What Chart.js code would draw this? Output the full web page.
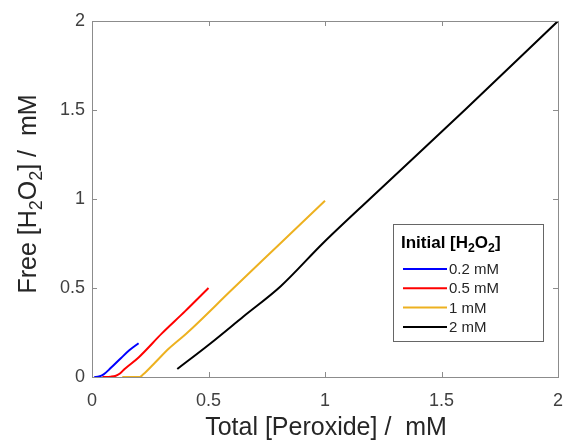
<!DOCTYPE html>
<html>
<head>
<meta charset="utf-8">
<script src="https://cdn.jsdelivr.net/npm/chart.js@4.4.0/dist/chart.umd.min.js"></script>
<style>
  html, body { margin: 0; padding: 0; background: #fff; }
  #wrap { width: 563px; height: 442px; }
</style>
</head>
<body>
<div id="wrap"><canvas id="h2o2Chart"></canvas></div>
<script>
const xTicks = [0, 0.5, 1, 1.5, 2];
const yTicks = [0, 0.5, 1, 1.5, 2];
const seriesLabels = ["0.2 mM", "0.5 mM", "1 mM", "2 mM"];
const seriesColors = ["#0000ff", "#ff0000", "#edb120", "#000000"];

// total peroxide (x) and free H2O2 (y)
const total02 = [0.01, 0.03, 0.05, 0.08, 0.125, 0.16, 0.2];
const free02 = [0, 0.003, 0.015, 0.05, 0.107, 0.15, 0.19];
const total05 = [0.045, 0.08, 0.1, 0.12, 0.14, 0.2, 0.3, 0.4, 0.5];
const free05 = [0, 0.002, 0.006, 0.02, 0.045, 0.11, 0.245, 0.37, 0.5];
const total1 = [0.13, 0.205, 0.22, 0.27, 0.33, 0.41, 0.6, 0.8, 1.0];
const free1 = [0, 0, 0.015, 0.08, 0.16, 0.25, 0.49, 0.74, 0.99];
const total2 = [0.366, 0.5, 0.65, 0.81, 0.99, 1.2, 1.6, 2.0];
const free2 = [0.045, 0.18, 0.34, 0.51, 0.75, 1.01, 1.5, 2.0];

const xs = [total02, total05, total1, total2];
const ys = [free02, free05, free1, free2];

const FONT = "'Liberation Sans', Arial, sans-serif";
const boxColor = "#8c8c8c";
const textColor = "#262626";

function pts(xa, ya) {
	return xa.map((x, i) => ({ x: x, y: ya[i] }));
}

// draws a run of text parts, some of them subscripts
function drawRich(ctx, parts, x, y, size, weight, align) {
	ctx.save();
	ctx.textBaseline = "alphabetic";
	ctx.textAlign = "left";
	let widths = parts.map((p) => {
		ctx.font = weight + " " + (p.sub ? size * 0.72 : size) + "px " + FONT;
		return ctx.measureText(p.t).width;
	});
	let total = widths.reduce((a, b) => a + b, 0);
	let cx = align === "center" ? x - total / 2 : x;
	parts.forEach((p, i) => {
		ctx.font = weight + " " + (p.sub ? size * 0.72 : size) + "px " + FONT;
		ctx.fillText(p.t, cx, p.sub ? y + size * 0.25 : y);
		cx += widths[i];
	});
	ctx.restore();
}

const matlabFrame = {
	id: "matlabFrame",
	afterDraw(chart) {
		const ctx = chart.ctx;
		const a = chart.chartArea;
		const sx = chart.scales.x;
		const sy = chart.scales.y;
		ctx.save();
		ctx.strokeStyle = boxColor;
		ctx.lineWidth = 1;
		ctx.strokeRect(a.left + 0.5, a.top + 0.5, a.right - a.left, a.bottom - a.top);
		const tl = 5;
		ctx.beginPath();
		xTicks.forEach((v) => {
			const px = Math.round(sx.getPixelForValue(v)) + 0.5;
			ctx.moveTo(px, a.bottom);
			ctx.lineTo(px, a.bottom - tl);
			ctx.moveTo(px, a.top);
			ctx.lineTo(px, a.top + tl);
		});
		yTicks.forEach((v) => {
			const py = Math.round(sy.getPixelForValue(v)) + 0.5;
			ctx.moveTo(a.left, py);
			ctx.lineTo(a.left + tl, py);
			ctx.moveTo(a.right, py);
			ctx.lineTo(a.right - tl, py);
		});
		ctx.stroke();
		ctx.restore();

		// axis titles
		ctx.fillStyle = textColor;
		drawRich(ctx, [{ t: "Total [Peroxide] /  mM" }], 326, 435, 25, "normal", "center");
		ctx.save();
		ctx.translate(36, 194);
		ctx.rotate(-Math.PI / 2);
		ctx.fillStyle = textColor;
		drawRich(ctx, [
			{ t: "Free [H" }, { t: "2", sub: true }, { t: "O" }, { t: "2", sub: true }, { t: "] /  mM" }
		], 0, 0, 25, "normal", "center");
		ctx.restore();

		// legend box
		const lx = 393, ly = 224, lw = 150, lh = 117;
		ctx.save();
		ctx.fillStyle = "#fff";
		ctx.fillRect(lx, ly, lw, lh);
		ctx.strokeStyle = "#666";
		ctx.lineWidth = 1;
		ctx.strokeRect(lx + 0.5, ly + 0.5, lw, lh);
		ctx.fillStyle = "#000";
		drawRich(ctx, [
			{ t: "Initial [H" }, { t: "2", sub: true }, { t: "O" }, { t: "2", sub: true }, { t: "]" }
		], 401, 248, 17, "bold", "left");
		chart.data.datasets.forEach((ds, i) => {
			const ry = 269 + i * 19.3;
			ctx.strokeStyle = ds.borderColor;
			ctx.lineWidth = 2;
			ctx.beginPath();
			ctx.moveTo(403, ry);
			ctx.lineTo(447, ry);
			ctx.stroke();
			ctx.fillStyle = textColor;
			ctx.font = "15px " + FONT;
			ctx.textBaseline = "middle";
			ctx.fillText(ds.label, 449, ry + 1);
		});
		ctx.restore();
	},
};

new Chart(document.getElementById("h2o2Chart"), {
	type: "line",
	data: {
		datasets: seriesLabels.map((lab, i) => ({
			label: lab,
			data: pts(xs[i], ys[i]),
			borderColor: seriesColors[i],
			borderWidth: 2,
			pointRadius: 0,
			tension: 0.2,
			cubicInterpolationMode: "monotone",
			fill: false,
		})),
	},
	options: {
		responsive: true,
		maintainAspectRatio: false,
		animation: false,
		layout: { padding: { top: 21, right: 5, left: 0, bottom: 0 } },
		scales: {
			x: {
				type: "linear",
				min: 0,
				max: 2,
				afterBuildTicks: (s) => { s.ticks = xTicks.map((v) => ({ value: v })); },
				afterFit: (s) => { s.height = 65; s.paddingRight = 0; s.paddingLeft = 0; },
				grid: { display: false, drawTicks: false },
				border: { display: false },
				ticks: {
					color: "#404040",
					font: { family: FONT, size: 18 },
					padding: 13,
					maxRotation: 0,
					callback: (v) => String(v),
				},
			},
			y: {
				type: "linear",
				min: 0,
				max: 2,
				afterBuildTicks: (s) => { s.ticks = yTicks.map((v) => ({ value: v })); },
				afterFit: (s) => { s.width = 92; s.paddingTop = 0; s.paddingBottom = 0; },
				grid: { display: false, drawTicks: false },
				border: { display: false },
				ticks: {
					color: "#404040",
					font: { family: FONT, size: 18 },
					padding: 7,
					callback: (v) => String(v),
				},
			},
		},
		plugins: {
			legend: { display: false },
			tooltip: { enabled: false },
		},
	},
	plugins: [matlabFrame],
});
</script>
</body>
</html>
